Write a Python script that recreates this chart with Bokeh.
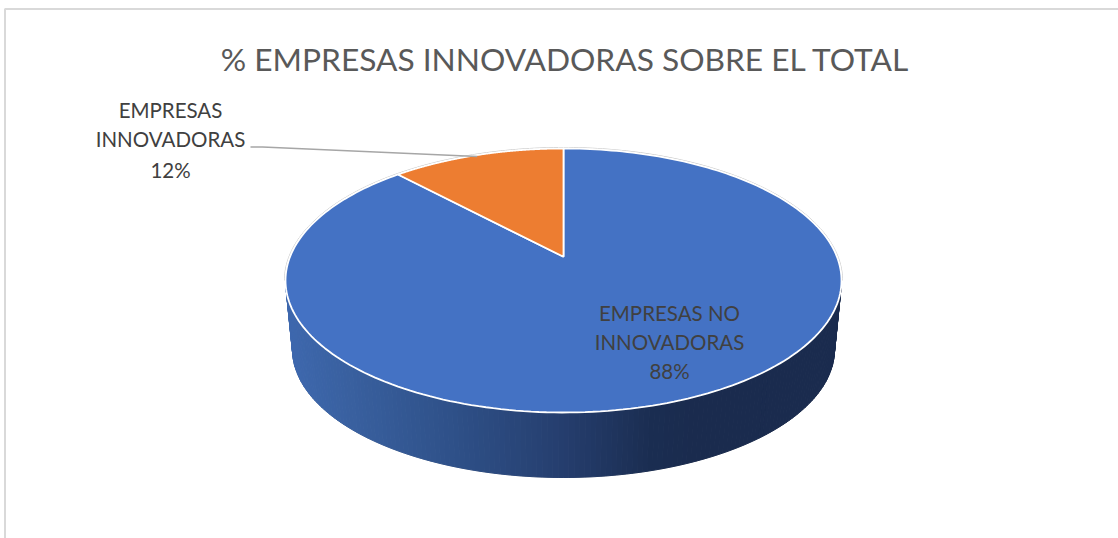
import numpy as np
from bokeh.plotting import figure
from bokeh.models import Range1d
from bokeh.core.properties import value
from bokeh.embed import file_html
from bokeh.resources import INLINE

# Data
title = "% EMPRESAS INNOVADORAS SOBRE EL TOTAL"
categories = ["EMPRESAS NO INNOVADORAS", "EMPRESAS INNOVADORAS"]
shares = [88, 12]
colors = ["#4472C4", "#ED7D31"]

# Layout of the 3D disc in page pixels
W, H = 1118, 538
CX, CY, RX, RY = 563.0, 280.0, 278.0, 132.0
BCY, BRX, BRY = 349.0, 271.0, 128.0
TILT = 0.18  # perspective shift of the pie centre on the ellipse


def project(theta):
    """Angle clockwise from 12 o'clock on the real disc -> page pixels."""
    x, y = np.sin(theta), np.cos(theta)
    d = 1 + TILT * y
    return CX + RX * x * np.sqrt(1 - TILT**2) / d, CY - RY * (y + TILT) / d


apex = (CX, CY - RY * TILT)
fracs = np.array(shares, dtype=float) / sum(shares)
edges = np.concatenate([[0], np.cumsum(fracs)]) * 2 * np.pi

p = figure(width=W, height=H, x_range=Range1d(0, W), y_range=Range1d(H, 0),
           output_backend="svg", toolbar_location=None, min_border=0)
p.axis.visible = False
p.grid.visible = False
p.outline_line_color = None
p.background_fill_color = "white"
p.border_fill_color = "white"

# chart frame (open at right and bottom as cropped)
p.line([4.5, 4.5, W], [H, 8.5, 8.5], line_color="#d9d9d9", line_width=2)

# side wall, shaded by strips
stops_x = [286, 350, 450, 560, 650, 700, 842]
stops_rgb = np.array([[0x3E, 0x68, 0xAE], [0x39, 0x60, 0x9F], [0x2F, 0x51, 0x89],
                      [0x26, 0x3F, 0x6F], [0x1B, 0x2E, 0x52], [0x1A, 0x2B, 0x4E],
                      [0x1A, 0x2B, 0x4E]], dtype=float)
ts = np.linspace(np.pi / 2, 3 * np.pi / 2, 161)
top_x, top_y = CX + RX * np.sin(ts), CY - RY * np.cos(ts)
bot_x, bot_y = CX + BRX * np.sin(ts), BCY - BRY * np.cos(ts)

# light silhouette
sil_x = np.concatenate([top_x[:1], bot_x, top_x[-1:]])
sil_y = np.concatenate([top_y[:1], bot_y, top_y[-1:]])
p.line(sil_x, sil_y, line_color="#c9c9c9", line_width=1)

xs, ys, cols = [], [], []
for i in range(len(ts) - 1):
    xs.append([top_x[i], top_x[i + 1], bot_x[i + 1], bot_x[i]])
    ys.append([top_y[i], top_y[i + 1], bot_y[i + 1], bot_y[i]])
    xm = (top_x[i] + top_x[i + 1]) / 2
    rgb = [int(np.interp(xm, stops_x, stops_rgb[:, k])) for k in range(3)]
    cols.append("#%02x%02x%02x" % tuple(rgb))
p.patches(xs, ys, fill_color=cols, line_color=cols, line_width=1)

# thin grey outer rim of the top surface
rim = np.linspace(-np.pi / 2, np.pi / 2, 181)
p.line(CX + (RX + 1) * np.sin(rim), CY - (RY + 1) * np.cos(rim),
       line_color="#c9c9c9", line_width=1)

# top surface
for k in range(len(shares)):
    th = np.linspace(edges[k], edges[k + 1], 240)
    px, py = project(th)
    p.patch(np.concatenate([[apex[0]], px]), np.concatenate([[apex[1]], py]),
            fill_color=colors[k], line_color="white", line_width=1.8)

# leader line: from the label to the middle of the small slice's rim
mid = (edges[1] + edges[2]) / 2
lx, ly = project(mid)
p.line([250, 262, lx], [146.5, 146.5, ly + 1.5], line_color="#a6a6a6", line_width=1.5)

font = value("Lato")
p.text([565], [58], text=[title], text_font=font, text_font_size="31.7px",
       text_color="#595959", text_align="center", text_baseline="middle")


def label(cx, cy_list, lines):
    p.text([cx] * len(lines), cy_list, text=lines, text_font=font,
           text_font_size="20.5px", text_color="#404040", text_align="center",
           text_baseline="middle")


def split(name, share):
    words = name.rsplit(" ", 1)
    return [words[0], words[1], f"{share}%"]


label(669, [312, 341, 370], split(categories[0], shares[0]))
label(170, [109, 138, 169], split(categories[1], shares[1]))

open("out.html", "w").write(file_html(p, INLINE))
